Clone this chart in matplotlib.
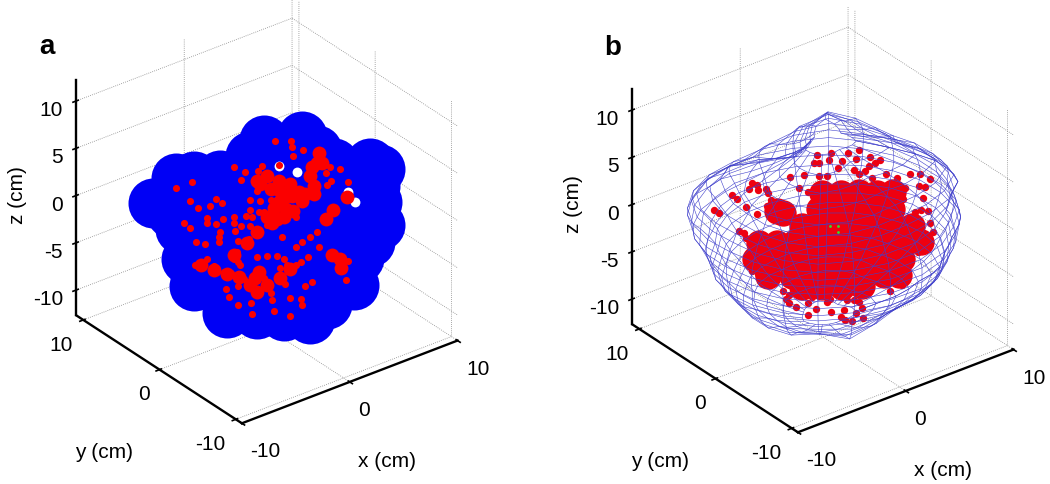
import numpy as np
import matplotlib
matplotlib.use('Agg')
import matplotlib.pyplot as plt

# depth along y cannot be read off a projected view, so flat point sets sit at y = 0
depth_y = 0.0

# panel a, blue spheres
blob_x = [-10.6, -8.5, -6.2, -4.35, -0.34, 3.2, 6.14, 9.54, 10.46, 10.15, 10.46, 8.46, 8.0, 5.52, 3.98, 1.51, -0.96, -3.73,
          -6.82, -7.59, -7.44, -1.57, 1.51, 4.6, 7.69, -4.66, -1.57, 1.51, 4.6, 7.69, -4.66, -1.57, 1.51, 4.6, 7.69,
          -3.73, -0.65, 2.44, 5.52, -1.58, -6.82, 10.0, 9.54, 7.37, -3.43, -4.97, -8.06, -8.98, -4.66, -6.2, -2.5,
          -6.2, -4.97, 1.51, 4.6, 7.37, 6.14, 3.05, -0.03, 9.23]
blob_z = [5.2, 6.9, 5.05, 5.46, 7.4, 6.2, 2.1, 0.64, -0.45, -3.8, -6.4, -9.0, -11.6, -12.6, -13.5, -12.1, -10.8, -9.5,
          -5.2, -2.0, 0.7, 3.4, 2.0, 0.7, -0.6, 1.2, -0.1, -1.45, -2.79, -4.13, -2.25, -3.6, -4.94, -6.28, -7.62,
          -6.15, -7.49, -8.83, -10.17, 6.18, 6.36, -2.0, -7.73, -10.8, -8.54, -5.61, 1.32, 3.46, 3.33, 2.25, 2.39,
          -0.54, -3.86, 5.53, 4.19, -0.16, -5.2, -0.37, 0.97, -4.8]
gap_x = [1.05, 2.75, 7.5, 8.1]
gap_z = [4.0, 2.6, -1.6, -2.9]

# panel a, electrodes
dots_a_x = [-8.5, -7.0, -7.2, -6.4, -5.3, -4.8, -4.2, -7.7, -7.2, -5.6, -5.6, -4.8, -4.1, -3.1, -3.1, -2.0, -1.6, -1.4, -2.4, -1.6,
            -4.4, -4.5, -4.5, -3.0, -2.7, -2.0, -5.8, -6.6, 0.7, 2.2, 2.3, 2.4, 3.3, 1.1, -0.5, -3.1, -2.1, -2.4, -0.9, -1.0,
            -1.6, -0.7, 0.3, 5.8, 6.7, 5.4, 5.9, 5.5, 7.5, 2.7, 1.4, 3.8, 3.5, 1.6, 4.1, 0.6, 2.1, -1.4, -2.7, -1.5,
            -3.6, -3.8, 0.3, 0.4, 2.1, 3.1, 3.2, 7.3, -6.7, -6.2, -5.6, -4.97, -4.7, -4.0, -3.4, -3.1, -2.7, -2.8, -2.0, -1.7,
            -0.96, 0.0, -0.8, -0.3, -2.5, -2.2, -1.9, -2.7, -0.3, 0.9, 1.8, 2.7, 3.1, 2.7, 3.2, 4.75, 5.7, 7.5, -1.0, 0.0,
            0.9, 1.5, 1.2, 4.0, 4.6]
dots_a_z = [5.9, 5.8, 3.9, 2.8, 2.6, 3.1, 2.4, 1.8, 1.1, 1.4, 0.9, 0.4, 0.7, 0.4, -0.2, 0.1, 0.5, -0.3, -0.8, -1.2,
            -0.6, -1.1, -1.6, -1.1, -2.3, -2.7, -1.3, -0.7, 6.8, 6.2, 5.5, 4.5, 4.7, 4.1, 4.7, 5.7, 4.7, 4.0, 4.3, 2.3,
            1.6, 1.1, 0.7, 1.8, 1.2, 1.4, 0.3, 0.0, -0.5, -2.1, -3.7, -6.8, -9.8, -8.7, -9.6, -11.1, -12.3, -10.6, -9.1, -9.4,
            -7.8, -6.9, -9.1, -9.9, -10.4, -11.0, -11.6, -10.8, -3.1, -3.2, -2.9, -3.9, -4.7, -5.0, -5.4, -4.0, -4.5, -3.4, -3.0, -2.5,
            -1.8, -1.8, -0.1, -0.3, -4.9, -6.5, -7.3, -7.0, -7.3, -7.8, -6.8, -7.2, -7.0, -5.3, -5.0, -6.2, -7.4, -8.9, -4.7, -5.1,
            -5.5, -6.0, -6.9, -4.8, -4.5]
# dense clusters in panel a, drawn as wider dots
core_a_x = [0.0, 1.05, 2.1, 2.9, 1.8, 1.05, 3.2, 4.3, 1.7, 0.9, 0.4, -0.96, 4.0, 4.6, 4.8, 7.4, 6.1, 5.4, 6.7, 5.95, 6.8,
            -1.1, -1.6, -0.96, -0.8, -0.65, 0.3, 1.2, 2.3, 3.5, 2.4, 1.5, 0.6, 0.0, 4.3, 5.06, 4.15,
            -6.2, -4.97, -3.7, -2.65, -0.03, 1.2, 2.1, -3.1, -1.9, -0.96]
core_a_z = [3.4, 2.4, 1.6, 0.4, 0.5, 0.2, -0.6, -0.4, -0.8, -1.5, -1.7, 3.3, 1.7, 2.8, 3.7, -2.1, -2.9, -3.5, -8.3, -7.6, -9.3,
            -6.9, -7.4, -8.4, -6.4, 2.8, 1.9, 1.3, 0.3, -0.05, -1.3, -1.6, -0.2, -0.95, 0.5, 2.6, 2.5,
            -3.3, -4.4, -5.3, -6.1, -8.1, -7.9, -7.3, -3.6, -2.8, -2.1]

# panel b, electrodes
dots_b_x = [-10.15, -9.7, -8.5, -8.0, -7.2, -6.6, -6.2, -6.9, -6.1, -5.3, -6.2, -5.1, -4.9, -5.2, -7.8, -7.2, -7.4, -3.8, -6.6, -6.1,
            -0.6, 0.7, 2.3, 3.3, -0.9, -0.4, 0.5, 1.7, 1.4, 3.0, 4.3, 5.3, 4.8, 4.2, 3.9, 2.8, 3.3, 4.5, 5.8, 8.05,
            9.0, 9.9, -3.1, -1.8, -0.4, 0.3, 6.8, -2.3, -1.4, 7.6, 8.9, 9.4, 9.2, 7.4, 7.3, 8.5, 9.1, 9.7, 9.9, 7.1,
            10.2, 9.1, 6.2, 7.3, 7.7, 8.8, -3.7, -3.2, -3.5, -3.2, -2.5, -1.4, -0.65, 0.7, 1.6, 2.0, 2.7, 3.7, 3.0, 3.6,
            1.9, 0.3, 0.6, -1.4, -2.0, -1.05, -0.4, 2.2, 2.8, 3.3]
dots_b_z = [5.2, 4.7, 6.1, 5.4, 4.2, 6.5, 6.1, 6.0, 5.6, 5.3, 3.0, 4.8, 4.0, 3.5, 2.0, 1.0, 1.6, -2.9, -2.8, -3.3,
            6.8, 6.5, 5.8, 5.7, 6.1, 5.9, 5.8, 5.2, 4.6, 4.8, 4.5, 3.7, 3.6, 3.6, 3.2, 3.8, 3.1, 2.2, 2.0, 1.0,
            0.6, -0.3, 5.6, 5.3, 4.5, 4.2, 1.2, 4.1, 3.3, -0.2, -0.6, -0.9, -2.0, -1.35, -0.6, -3.2, -3.2, -3.55, -4.9, -3.2,
            -6.05, -6.1, -10.5, -10.35, -9.7, -7.5, -6.2, -6.8, -7.1, -7.7, -8.4, -9.75, -9.4, -10.3, -11.3, -11.7, -12.2, -12.3, -11.45, -11.2,
            -10.6, -9.1, -8.9, -8.5, -7.4, -8.0, -7.9, -9.7, -10.0, -10.4]
core_b_x = [-0.1, 1.6, 3.3, 5.0, 6.5, -0.4, 1.3, 2.96, 4.7, 6.4, -2.0, -0.3, 1.4, 3.1, 4.8, 6.5, 8.2,
            -6.0, -4.3, -2.6, -0.9, 0.8, 2.5, 4.2, 5.9, 7.6, 9.1, -6.3, -4.6, -2.9, -1.2, 0.5, 2.2, 3.9, 5.6, 7.3,
            -5.1, -2.9, -1.2, 0.5, 2.2, 3.9, 5.6, 7.0, -2.0, -0.1, 1.7, 3.6, -4.3, -3.7]
core_b_z = [2.6, 1.9, 1.2, 0.4, -0.2, 1.0, 0.3, -0.5, -1.2, -1.9, -0.05, -0.8, -1.5, -2.3, -3.0, -3.7, -4.5,
            -0.06, -0.8, -1.5, -2.3, -3.0, -3.7, -4.5, -5.2, -6.0, -6.6, -1.7, -2.4, -3.1, -3.9, -4.6, -5.4, -6.1, -6.8, -7.6,
            -3.95, -4.9, -5.6, -6.4, -7.1, -7.8, -8.6, -9.2, -6.5, -7.3, -8.1, -8.9, 2.5, 2.1]
green_x = [0.65, 1.4, 1.4]
green_z = [-1.2, -1.5, -2.2]

# panel b, surface mesh: ring heights (cm), longitudes (deg), ring radii (mm)
ring_z = [-10.0, -9.25, -8.5, -7.75, -7.0, -6.25, -5.5, -4.75, -4.0, -3.25, -2.5, -1.75, -1.0, -0.25,
          0.5, 1.25, 2.0, 2.75, 3.5, 4.25, 5.0, 5.75, 6.5, 7.25, 8.0]
ring_lon = [-37.5, -22.5, -7.5, 7.5, 22.5, 37.5, 52.5, 67.5, 82.5, 97.5, 112.5, 127.5, 142.5, 157.5, 172.5, 187.5,
            202.5, 217.5, 232.5, 247.5, 262.5, 277.5, 292.5, 307.5]
ring_mm = [
    [25, 22, 18, 15, 16, 18, 20, 18, 16, 15, 15, 15, 15, 16, 18, 20, 20, 20, 20, 20, 20, 20, 22, 24],
    [40, 37, 33, 30, 30, 31, 30, 29, 28, 28, 29, 30, 30, 31, 33, 35, 38, 40, 42, 41, 39, 38, 38, 39],
    [55, 51, 46, 42, 43, 43, 42, 40, 39, 38, 40, 41, 42, 44, 46, 48, 52, 55, 56, 60, 56, 52, 53, 54],
    [65, 61, 56, 52, 53, 53, 52, 50, 48, 47, 49, 51, 52, 54, 56, 58, 63, 67, 68, 74, 67, 63, 63, 64],
    [72, 69, 64, 60, 60, 59, 58, 56, 55, 54, 55, 57, 58, 62, 68, 73, 78, 82, 78, 90, 78, 70, 71, 72],
    [82, 78, 72, 68, 67, 65, 64, 62, 61, 60, 61, 62, 63, 68, 73, 78, 84, 89, 86, 95, 86, 78, 80, 81],
    [88, 84, 80, 76, 74, 72, 70, 68, 67, 66, 66, 67, 68, 73, 78, 83, 89, 94, 93, 97, 90, 85, 87, 88],
    [90, 88, 85, 82, 80, 78, 76, 74, 73, 72, 72, 73, 74, 79, 84, 88, 93, 97, 100, 98, 96, 93, 92, 91],
    [92, 91, 89, 87, 85, 83, 81, 80, 79, 78, 77, 77, 77, 82, 87, 92, 96, 100, 102, 102, 101, 100, 97, 94],
    [95, 95, 93, 92, 90, 87, 85, 84, 83, 83, 82, 81, 80, 86, 92, 97, 100, 103, 105, 105, 106, 106, 102, 98],
    [97, 97, 96, 95, 93, 90, 88, 88, 88, 88, 86, 84, 82, 88, 94, 98, 101, 103, 105, 106, 108, 109, 105, 100],
    [100, 99, 98, 97, 95, 93, 92, 93, 93, 94, 92, 89, 87, 92, 96, 99, 101, 103, 105, 107, 109, 110, 107, 103],
    [103, 102, 100, 99, 98, 97, 96, 97, 98, 99, 97, 95, 93, 96, 98, 100, 102, 104, 105, 107, 109, 110, 108, 105],
    [104, 103, 101, 100, 100, 100, 100, 102, 104, 105, 104, 102, 100, 100, 100, 100, 102, 104, 105, 107, 109, 110, 108, 105],
    [103, 101, 100, 99, 100, 101, 103, 104, 105, 105, 105, 104, 103, 101, 100, 99, 101, 103, 105, 106, 107, 108, 106, 103],
    [99, 98, 97, 97, 99, 102, 105, 104, 102, 100, 102, 103, 103, 101, 99, 97, 99, 102, 104, 105, 106, 106, 104, 101],
    [96, 96, 96, 94, 97, 102, 106, 102, 95, 88, 92, 97, 100, 98, 95, 93, 96, 99, 102, 102, 102, 102, 100, 97],
    [99, 97, 95, 92, 95, 100, 105, 97, 87, 78, 84, 91, 96, 95, 92, 90, 93, 97, 100, 99, 98, 97, 98, 99],
    [102, 96, 88, 82, 88, 95, 102, 90, 73, 58, 68, 78, 86, 86, 85, 84, 88, 93, 97, 96, 94, 93, 96, 100],
    [99, 91, 82, 74, 80, 88, 97, 82, 60, 43, 58, 75, 78, 76, 77, 78, 83, 88, 92, 91, 89, 88, 92, 96],
    [93, 85, 78, 72, 74, 82, 90, 70, 48, 30, 40, 52, 55, 60, 68, 74, 78, 82, 85, 84, 82, 80, 84, 89],
    [85, 75, 65, 56, 58, 68, 78, 58, 38, 24, 30, 36, 38, 44, 52, 60, 64, 68, 72, 70, 68, 66, 72, 78],
    [70, 60, 52, 44, 46, 55, 65, 48, 30, 18, 20, 23, 25, 30, 38, 45, 49, 54, 58, 55, 52, 50, 56, 63],
    [50, 42, 35, 30, 34, 45, 55, 38, 22, 14, 14, 15, 15, 20, 25, 30, 34, 38, 42, 38, 34, 30, 36, 43],
    [25, 22, 20, 18, 22, 28, 35, 25, 15, 10, 10, 10, 10, 12, 15, 18, 19, 20, 20, 20, 19, 18, 20, 23],
]

x_ticks = [-10, 0, 10]
y_ticks = [-10, 0, 10]
z_ticks = [-10, -5, 0, 5, 10]

plt.rcParams['font.family'] = ['Liberation Sans', 'DejaVu Sans']
plt.rcParams['font.size'] = 15
plt.rcParams['axes.unicode_minus'] = False
plt.rcParams['axes.linewidth'] = 1.7
plt.rcParams['grid.color'] = '#8a8a8a'
plt.rcParams['grid.linewidth'] = 0.6
plt.rcParams['grid.linestyle'] = (0, (1, 1.5))
plt.rcParams['xtick.major.width'] = 1.2
plt.rcParams['ytick.major.width'] = 1.2


def make_axes(fig, left_px, bottom_px):
    side = 457
    ax = fig.add_axes([left_px / 1050, bottom_px / 485, side / 1050, side / 485],
                      projection='3d', computed_zorder=False, proj_type='ortho')
    ax.view_init(elev=30, azim=-127.5)
    ax.set_box_aspect((1, 1, 1))
    ax.patch.set_alpha(0)
    ax.set_xlim(-10, 10, view_margin=0)
    ax.set_ylim(-10.8, 10.9, view_margin=0)
    ax.set_zlim(-12.7, 12.2, view_margin=0)
    ax.set_xticks(x_ticks)
    ax.set_yticks(y_ticks)
    ax.set_zticks(z_ticks)
    ax.set_xticklabels(x_ticks, ha='left')
    ax.set_yticklabels(y_ticks, ha='right')
    ax.set_zticklabels(z_ticks, ha='right')
    for axis in (ax.xaxis, ax.yaxis, ax.zaxis):
        axis.set_pane_color((1, 1, 1, 0))
        axis.pane.set_edgecolor('none')
        axis.set_rotate_label(False)
    ax.zaxis.label.set_rotation(90)
    ax.tick_params(axis='x', pad=1)
    ax.tick_params(axis='y', pad=0)
    ax.tick_params(axis='z', pad=-2)
    ax.set_xlabel('x (cm)', labelpad=18)
    ax.set_ylabel('y (cm)', labelpad=23)
    ax.set_zlabel('z (cm)', labelpad=5.5)
    return ax


def flat_scatter(ax, xs, zs, size, color, order):
    xs = np.array(xs)
    ax.scatter(xs, np.full(len(xs), depth_y), zs, s=size, c=color, marker='o', linewidths=0,
               depthshade=False, zorder=order)


fig = plt.figure(figsize=(10.5, 4.85), dpi=100)

ax_a = make_axes(fig, 32.3, 39)
flat_scatter(ax_a, blob_x, blob_z, 1296, '#0000f5', 2)
flat_scatter(ax_a, gap_x, gap_z, 50, 'white', 3)
flat_scatter(ax_a, core_a_x, core_a_z, 100, '#fb0000', 4)
flat_scatter(ax_a, dots_a_x, dots_a_z, 26, '#fb0000', 4)

ax_b = make_axes(fig, 588.3, 30)
flat_scatter(ax_b, core_b_x, core_b_z, 360, '#ee0010', 2)
flat_scatter(ax_b, dots_b_x, dots_b_z, 28, '#ee0010', 2)
flat_scatter(ax_b, green_x, green_z, 4, '#30e030', 5)

lon = np.deg2rad(ring_lon + ring_lon[:1])
radii = np.array(ring_mm) / 10
radii = np.c_[radii, radii[:, 0]]
mesh_x = radii * np.cos(lon)
mesh_y = radii * np.sin(lon)
mesh_z = np.repeat(np.array(ring_z)[:, None], len(lon), axis=1)
ax_b.plot_wireframe(mesh_x, mesh_y, mesh_z, rstride=1, cstride=1, color='#4040cc', linewidth=0.4, zorder=3)

fig.text(39 / 1050, 1 - 54 / 485, 'a', fontsize=20, fontweight='bold')
fig.text(604 / 1050, 1 - 55 / 485, 'b', fontsize=20, fontweight='bold')

fig.savefig('out.png', dpi=100)
